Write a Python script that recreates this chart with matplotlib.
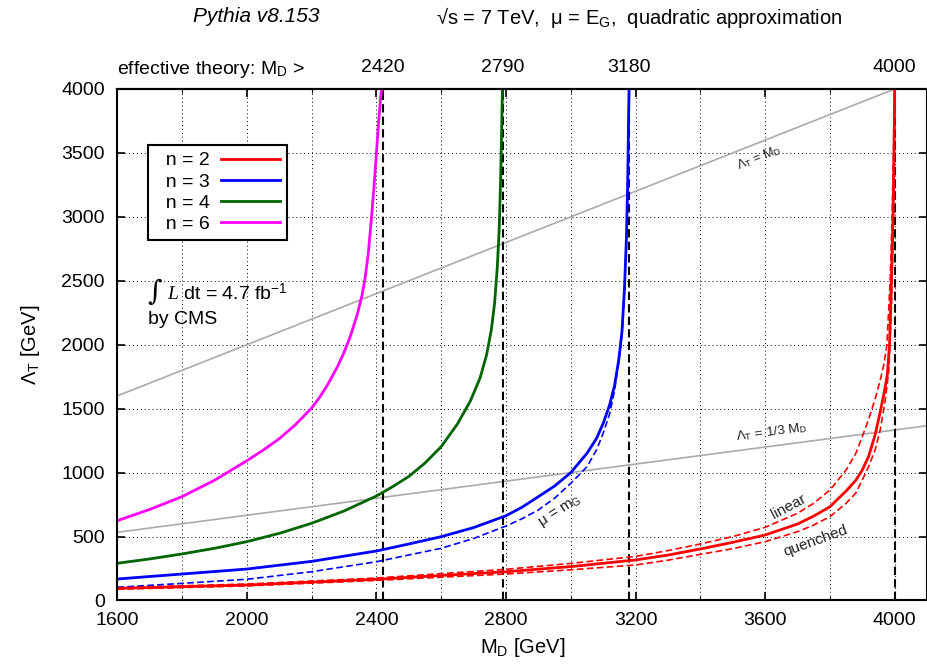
import matplotlib
matplotlib.use("Agg")
import matplotlib.pyplot as plt
from matplotlib.ticker import MultipleLocator

plt.rcParams['font.family'] = ['Liberation Sans', 'DejaVu Sans']
plt.rcParams['mathtext.fontset'] = 'custom'
plt.rcParams['mathtext.rm'] = 'Liberation Sans'
plt.rcParams['mathtext.it'] = 'Liberation Serif:italic'
plt.rcParams['mathtext.sf'] = 'Liberation Sans'

# ---------------- data ----------------
md_n6 = [1600, 1700, 1800, 1900, 2000, 2050, 2100, 2150, 2200, 2225, 2250, 2280, 2300, 2320, 2340, 2355,
         2365, 2375, 2385, 2393, 2400, 2407, 2413, 2416]
lt_n6 = [624, 712, 812, 940, 1093, 1175, 1265, 1375, 1505, 1590, 1690, 1830, 1940, 2070, 2230, 2380,
         2520, 2720, 3000, 3250, 3500, 3750, 3930, 4000]

md_n4 = [1600, 1700, 1800, 1900, 2000, 2100, 2200, 2300, 2400, 2450, 2500, 2550, 2600, 2650, 2690,
         2720, 2740, 2755, 2765, 2773, 2779, 2783, 2786, 2789]
lt_n4 = [291, 325, 364, 408, 460, 525, 604, 700, 817, 890, 970, 1075, 1203, 1380, 1560,
         1740, 1920, 2120, 2330, 2600, 2900, 3250, 3600, 4000]

md_n3 = [1600, 1800, 2000, 2200, 2400, 2500, 2600, 2700, 2800, 2850, 2900, 2950, 3000, 3050, 3080,
         3100, 3120, 3135, 3148, 3158, 3166, 3172, 3176, 3178, 3180]
lt_n3 = [168, 207, 246, 306, 387, 442, 499, 570, 663, 730, 812, 895, 1000, 1151, 1270,
         1385, 1530, 1680, 1880, 2100, 2450, 2850, 3300, 3700, 4000]

md_n3_mg = [1600, 1800, 2000, 2200, 2400, 2500, 2600, 2700, 2800, 2850, 2900, 2950, 3000, 3050, 3080,
            3100, 3120, 3135, 3148, 3158, 3166, 3172, 3176, 3178, 3180]
lt_n3_mg = [103, 134, 166, 225, 303, 356, 408, 485, 582, 640, 708, 800, 916, 1046, 1180,
            1307, 1460, 1640, 1860, 2080, 2430, 2830, 3280, 3680, 4000]

md_n2 = [1600, 2000, 2400, 2800, 3000, 3200, 3300, 3400, 3500, 3600, 3700, 3750, 3800, 3850, 3880,
         3900, 3920, 3940, 3955, 3967, 3977, 3984, 3990, 3995, 3998, 4000]
lt_n2 = [95, 121, 166, 225, 265, 317, 355, 403, 455, 512, 598, 660, 733, 856, 940,
         1020, 1130, 1300, 1470, 1620, 1760, 2000, 2500, 3000, 3500, 4000]

md_n2_lin = [1600, 2000, 2400, 2800, 3000, 3200, 3300, 3400, 3500, 3600, 3700, 3750, 3800, 3850, 3880,
             3900, 3920, 3940, 3955, 3967, 3976, 3986, 3992, 3996, 4000]
lt_n2_lin = [101, 129, 176, 244, 290, 345, 390, 442, 500, 572, 682, 760, 864, 1020, 1150,
             1281, 1420, 1580, 1720, 1850, 2000, 2500, 3000, 3500, 4000]

md_n2_que = [1600, 2000, 2400, 2800, 3000, 3200, 3300, 3400, 3500, 3600, 3700, 3750, 3800, 3850, 3880,
             3900, 3920, 3940, 3955, 3970, 3982, 3990, 3995, 3998, 4000]
lt_n2_que = [88, 114, 157, 207, 240, 278, 315, 361, 405, 460, 538, 590, 655, 760, 840,
             942, 1050, 1180, 1330, 1550, 1800, 2300, 2900, 3500, 4000]

md_limits = [2420, 2790, 3180, 4000]
md_line = [1600, 4100]

FS = 14

fig = plt.figure(figsize=(9.28, 6.69), dpi=100)
ax = fig.add_axes([0.1264, 0.1024, 0.8726, 0.7646])

ax.set_xlim(1600, 4100)
ax.set_ylim(0, 4000)

# grid
ax.xaxis.set_major_locator(MultipleLocator(400))
ax.xaxis.set_minor_locator(MultipleLocator(200))
ax.yaxis.set_major_locator(MultipleLocator(500))
ax.grid(True, which='both', axis='x', color='black', linestyle=(0, (1, 3)), linewidth=0.7)
ax.grid(True, which='major', axis='y', color='black', linestyle=(0, (1, 3)), linewidth=0.7)
ax.set_axisbelow(True)

# reference lines
ax.plot(md_line, [v for v in md_line], color='#aaaaaa', lw=1.2)
ax.plot(md_line, [v / 3.0 for v in md_line], color='#aaaaaa', lw=1.2)

# effective theory limits
for m in md_limits:
    ax.axvline(m, color='black', lw=1.5, linestyle=(0, (4, 2)))

# curves
ax.plot(md_n2_lin, lt_n2_lin, color='#ff0000', lw=1.2, linestyle=(0, (4, 2)))
ax.plot(md_n2_que, lt_n2_que, color='#ff0000', lw=1.2, linestyle=(0, (4, 2)))
ax.plot(md_n3_mg, lt_n3_mg, color='#0000ff', lw=1.2, linestyle=(0, (4, 2)))
l2, = ax.plot(md_n2, lt_n2, color='#ff0000', lw=2, label='  n = 2')
l3, = ax.plot(md_n3, lt_n3, color='#0000ff', lw=2, label='  n = 3')
l4, = ax.plot(md_n4, lt_n4, color='#006400', lw=2, label='  n = 4')
l6, = ax.plot(md_n6, lt_n6, color='#ff00ff', lw=2, label='  n = 6')

leg = ax.legend(handles=[l2, l3, l4, l6], loc='upper left', bbox_to_anchor=(0.038, 0.8905),
                borderaxespad=0, markerfirst=False, fontsize=FS, handlelength=3.0,
                labelspacing=0.18, handletextpad=0.6, borderpad=0.35, fancybox=False,
                framealpha=1, edgecolor='black')
leg.get_frame().set_linewidth(1.5)

# ticks
ax.tick_params(which='major', direction='in', length=6, width=1.2, top=True, right=True,
               labelsize=FS, pad=8)
ax.tick_params(which='minor', direction='in', length=3, width=0.8, top=True, right=False)
ax.tick_params(axis='y', which='major', pad=9)
for s in ax.spines.values():
    s.set_linewidth(1.5)

sec = ax.secondary_xaxis('top')
sec.set_xticks(md_limits)
sec.set_xticklabels([str(m) for m in md_limits])
sec.tick_params(direction='in', length=6, width=1.2, labelsize=FS, pad=9)
sec.spines['top'].set_linewidth(1.5)

ax.set_xlabel('M$_\\mathrm{D}$ [GeV]', fontsize=FS + 0.5, labelpad=5)
ax.set_ylabel('\u039b$_\\mathrm{T}$ [GeV]', fontsize=FS + 0.5, labelpad=14)

# annotations in the plot
ax.text(3582, 3460, '\u039b$_\\mathrm{T}$ = M$_\\mathrm{D}$', fontsize=9, rotation=21.5,
        ha='center', va='center', color='#222222', rotation_mode='anchor')
ax.text(3619, 1317, '\u039b$_\\mathrm{T}$ = 1/3 M$_\\mathrm{D}$', fontsize=9.5, rotation=7.5,
        ha='center', va='center', color='#222222', rotation_mode='anchor')
ax.text(3674, 731, 'linear', fontsize=11, rotation=28, ha='center', va='center',
        color='#222222', rotation_mode='anchor')
ax.text(3755, 465, 'quenched', fontsize=11, rotation=20, ha='center', va='center',
        color='#222222', rotation_mode='anchor')
ax.text(2969, 692, '\u03bc = m$_\\mathrm{G}$', fontsize=11, rotation=33, ha='center', va='center',
        color='#222222', rotation_mode='anchor')

ax.text(0.037, 0.603, '\u222b', transform=ax.transAxes, fontsize=20, family='DejaVu Serif',
        ha='left', va='center')
ax.text(0.061, 0.600, '$L$ dt = 4.7 fb$^{-1}$', transform=ax.transAxes, fontsize=FS,
        ha='left', va='center')
ax.text(0.038, 0.550, 'by CMS', transform=ax.transAxes, fontsize=FS, ha='left', va='center')

# header texts
fig.text(256 / 928, 1 - 16 / 669, 'Pythia v8.153', fontsize=15, style='italic',
         ha='center', va='center')
fig.text(436 / 928, 1 - 17 / 669, '\u221as = 7 TeV,  \u03bc = E$_\\mathrm{G}$,  quadratic approximation',
         fontsize=14.5, ha='left', va='center')
fig.text(117 / 928, 1 - 70 / 669, 'effective theory: M$_\\mathrm{D}$ >', fontsize=FS,
         ha='left', va='center')

fig.savefig('out.png', dpi=100)
